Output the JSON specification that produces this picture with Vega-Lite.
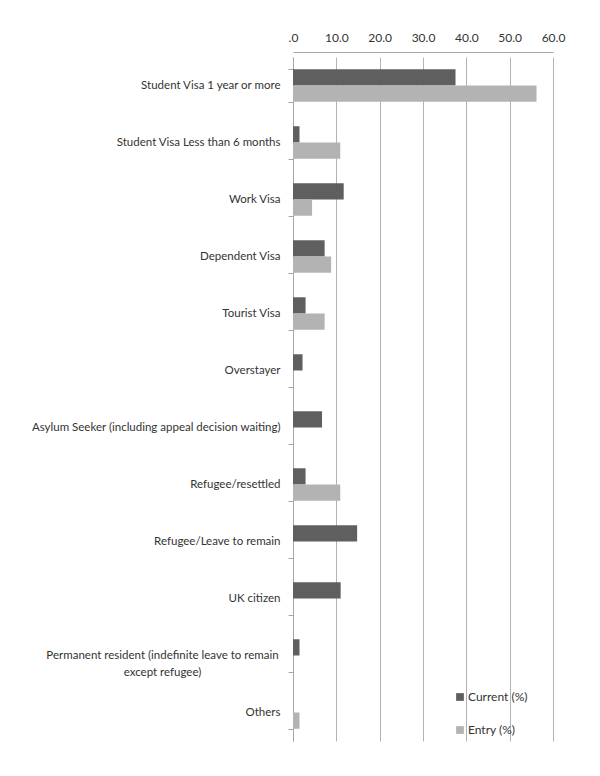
{
  "$schema": "https://vega.github.io/schema/vega-lite/v6.json",
  "autosize": {"type": "none"},
  "width": 260,
  "height": 684,
  "padding": {"left": 293, "top": 57, "right": 47, "bottom": 35},
  "background": "white",
  "config": {
    "font": "Lato",
    "view": {"stroke": null},
    "axis": {"labelFont": "Lato", "labelColor": "#404040"}
  },
  "data": {
    "values": [
      {"category": "Student Visa 1 year or more", "series": "Current (%)", "value": 37.5},
      {"category": "Student Visa 1 year or more", "series": "Entry (%)", "value": 56.2},
      {"category": "Student Visa Less than 6 months", "series": "Current (%)", "value": 1.5},
      {"category": "Student Visa Less than 6 months", "series": "Entry (%)", "value": 10.9},
      {"category": "Work Visa", "series": "Current (%)", "value": 11.7},
      {"category": "Work Visa", "series": "Entry (%)", "value": 4.4},
      {"category": "Dependent Visa", "series": "Current (%)", "value": 7.3},
      {"category": "Dependent Visa", "series": "Entry (%)", "value": 8.8},
      {"category": "Tourist Visa", "series": "Current (%)", "value": 2.9},
      {"category": "Tourist Visa", "series": "Entry (%)", "value": 7.3},
      {"category": "Overstayer", "series": "Current (%)", "value": 2.2},
      {"category": "Asylum Seeker (including appeal decision waiting)", "series": "Current (%)", "value": 6.7},
      {"category": "Refugee/resettled", "series": "Current (%)", "value": 2.9},
      {"category": "Refugee/resettled", "series": "Entry (%)", "value": 10.9},
      {"category": "Refugee/Leave to remain", "series": "Current (%)", "value": 14.8},
      {"category": "UK citizen", "series": "Current (%)", "value": 11.0},
      {"category": "Permanent resident (indefinite leave to remain except refugee)", "series": "Current (%)", "value": 1.5},
      {"category": "Others", "series": "Entry (%)", "value": 1.5}
    ]
  },
  "mark": {"type": "bar"},
  "encoding": {
    "y": {
      "field": "category",
      "type": "nominal",
      "sort": [
        "Student Visa 1 year or more",
        "Student Visa Less than 6 months",
        "Work Visa",
        "Dependent Visa",
        "Tourist Visa",
        "Overstayer",
        "Asylum Seeker (including appeal decision waiting)",
        "Refugee/resettled",
        "Refugee/Leave to remain",
        "UK citizen",
        "Permanent resident (indefinite leave to remain except refugee)",
        "Others"
      ],
      "scale": {"paddingInner": 0.43, "paddingOuter": 0.215},
      "axis": {
        "title": null,
        "labelFontSize": 11.5,
        "labelColor": "#333333",
        "labelAlign": {"condition": {"test": "datum.value == 'Permanent resident (indefinite leave to remain except refugee)'", "value": "center"}, "value": "right"},
        "labelPadding": {"condition": {"test": "datum.value == 'Permanent resident (indefinite leave to remain except refugee)'", "value": 126}, "value": 8},
        "tickSize": 5,
        "tickBand": "extent",
        "tickColor": "#a6a6a6",
        "domainColor": "#a6a6a6",
        "labelLimit": 300,
        "labelLineHeight": 17,
        "labelExpr": "datum.label == 'Permanent resident (indefinite leave to remain except refugee)' ? ['Permanent resident (indefinite leave to remain', 'except refugee)'] : datum.label"
      }
    },
    "yOffset": {
      "field": "series",
      "type": "nominal",
      "sort": ["Current (%)", "Entry (%)"]
    },
    "x": {
      "field": "value",
      "type": "quantitative",
      "scale": {"domain": [0, 60], "nice": false},
      "axis": {
        "orient": "top",
        "title": null,
        "offset": 5,
        "tickCount": 6,
        "labelFlush": false,
        "labelExpr": "datum.value == 0 ? '.0' : format(datum.value, '.1f')",
        "labelFontSize": 12,
        "labelColor": "#333333",
        "labelPadding": 8,
        "tickSize": 0,
        "domainColor": "#a6a6a6",
        "gridColor": "#b3b3b3"
      }
    },
    "color": {
      "field": "series",
      "type": "nominal",
      "scale": {"domain": ["Current (%)", "Entry (%)"], "range": ["#5f5f5f", "#b3b3b3"]},
      "legend": {
        "title": null,
        "orient": "none",
        "legendX": 161,
        "legendY": 634,
        "symbolType": "square",
        "symbolSize": 60,
        "symbolStrokeWidth": 0,
        "labelFontSize": 12,
        "labelColor": "#333333",
        "labelOffset": 2,
        "rowPadding": 21
      }
    }
  }
}
